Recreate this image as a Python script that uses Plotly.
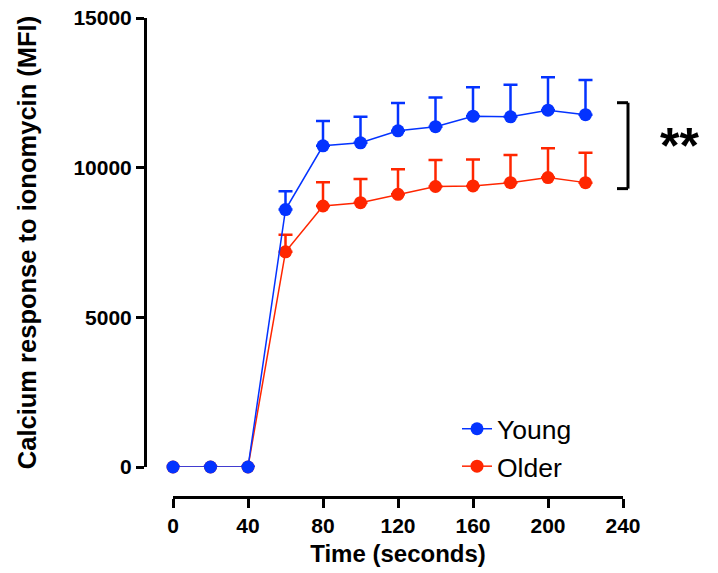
import plotly.graph_objects as go

time_s = [0, 20, 40, 60, 80, 100, 120, 140, 160, 180, 200, 220]
young_mean = [0, 0, 0, 8600, 10730, 10830, 11230, 11370, 11720, 11700, 11920, 11770]
young_err = [0, 0, 0, 610, 830, 870, 930, 970, 970, 1070, 1100, 1160]
older_mean = [0, 0, 0, 7190, 8720, 8830, 9110, 9370, 9390, 9500, 9670, 9500]
older_err = [0, 0, 0, 570, 790, 790, 840, 890, 880, 920, 980, 1000]
x_ticks = [0, 40, 80, 120, 160, 200, 240]
y_ticks = [0, 5000, 10000, 15000]
sig_low, sig_high = 9300, 12170
sig_label = "**"

BLUE = "rgb(4,51,255)"
RED = "rgb(255,38,0)"
FONT = "Liberation Sans, Arial, sans-serif"

W, H = 718, 573
ML, MR, MT, MB = 145, 95, 18, 76
pw = W - ML - MR
ph = H - MT - MB

fig = go.Figure()

def add_series(name, y, err, color, group, rank):
    errs = [e if e > 0 else None for e in err]
    fig.add_trace(go.Scatter(
        x=time_s, y=y, name=name, mode="lines+markers",
        legendgroup=group, legendrank=rank,
        line=dict(color=color, width=1.5),
        marker=dict(color=color, size=13),
        error_y=dict(type="data", symmetric=False, array=errs,
                     arrayminus=[0 if e > 0 else None for e in err],
                     color=color, thickness=2.5, width=7),
        cliponaxis=False,
    ))

add_series("Older", older_mean, older_err, RED, "b", 2)
add_series("Young", young_mean, young_err, BLUE, "a", 1)

# significance bracket
bx = (628 - ML) / pw
bx0 = (617 - ML) / pw
line = dict(color="black", width=3)
fig.add_shape(type="line", xref="paper", yref="y", x0=bx, x1=bx, y0=sig_low, y1=sig_high, line=line)
fig.add_shape(type="line", xref="paper", yref="y", x0=bx0, x1=bx, y0=sig_low, y1=sig_low, line=line)
fig.add_shape(type="line", xref="paper", yref="y", x0=bx0, x1=bx, y0=sig_high, y1=sig_high, line=line)
fig.add_annotation(xref="paper", yref="y", x=(679 - ML) / pw, y=(sig_low + sig_high) / 2 - 20,
                   text=sig_label, showarrow=False,
                   font=dict(family=FONT, size=50, color="black", weight="bold"),
                   xanchor="center", yanchor="middle")

fig.update_layout(
    width=W, height=H,
    margin=dict(l=ML, r=MR, t=MT, b=MB, autoexpand=False),
    paper_bgcolor="white", plot_bgcolor="white",
    font=dict(family=FONT, color="black"),
    showlegend=True,
    legend=dict(x=(457 - ML) / pw, y=(497 - 405) / ph, xanchor="left", yanchor="top",
                font=dict(family=FONT, size=26.5, color="black"),
                traceorder="normal", tracegroupgap=6,
                bgcolor="rgba(0,0,0,0)", itemwidth=30),
    xaxis=dict(
        range=[0, 240], domain=[(173 - ML) / pw, 1],
        anchor="free", position=0, automargin=False,
        tickmode="array", tickvals=x_ticks, ticktext=[str(v) for v in x_ticks],
        showgrid=False, zeroline=False,
        showline=True, linecolor="black", linewidth=3,
        ticks="outside", ticklen=9, tickwidth=3, tickcolor="black",
        tickfont=dict(family=FONT, size=21, color="black", weight="bold"),
        title=dict(text="Time (seconds)", standoff=8,
                   font=dict(family=FONT, size=24, color="black", weight="bold")),
    ),
    yaxis=dict(
        range=[0, 15000], domain=[(497 - 467) / ph, 1],
        anchor="free", position=0, automargin=False,
        tickmode="array", tickvals=y_ticks, ticktext=[str(v) for v in y_ticks],
        showgrid=False, zeroline=False,
        showline=True, linecolor="black", linewidth=3,
        ticks="outside", ticklen=8, tickwidth=3, tickcolor="black",
        tickfont=dict(family=FONT, size=21, color="black", weight="bold"),
        title=dict(text="Calcium response to ionomycin (MFI)", standoff=28,
                   font=dict(family=FONT, size=25.5, color="black", weight="bold")),
    ),
)

fig.write_html("out.html", config={"displayModeBar": False},
               post_script="document.body.style.margin='0';")
